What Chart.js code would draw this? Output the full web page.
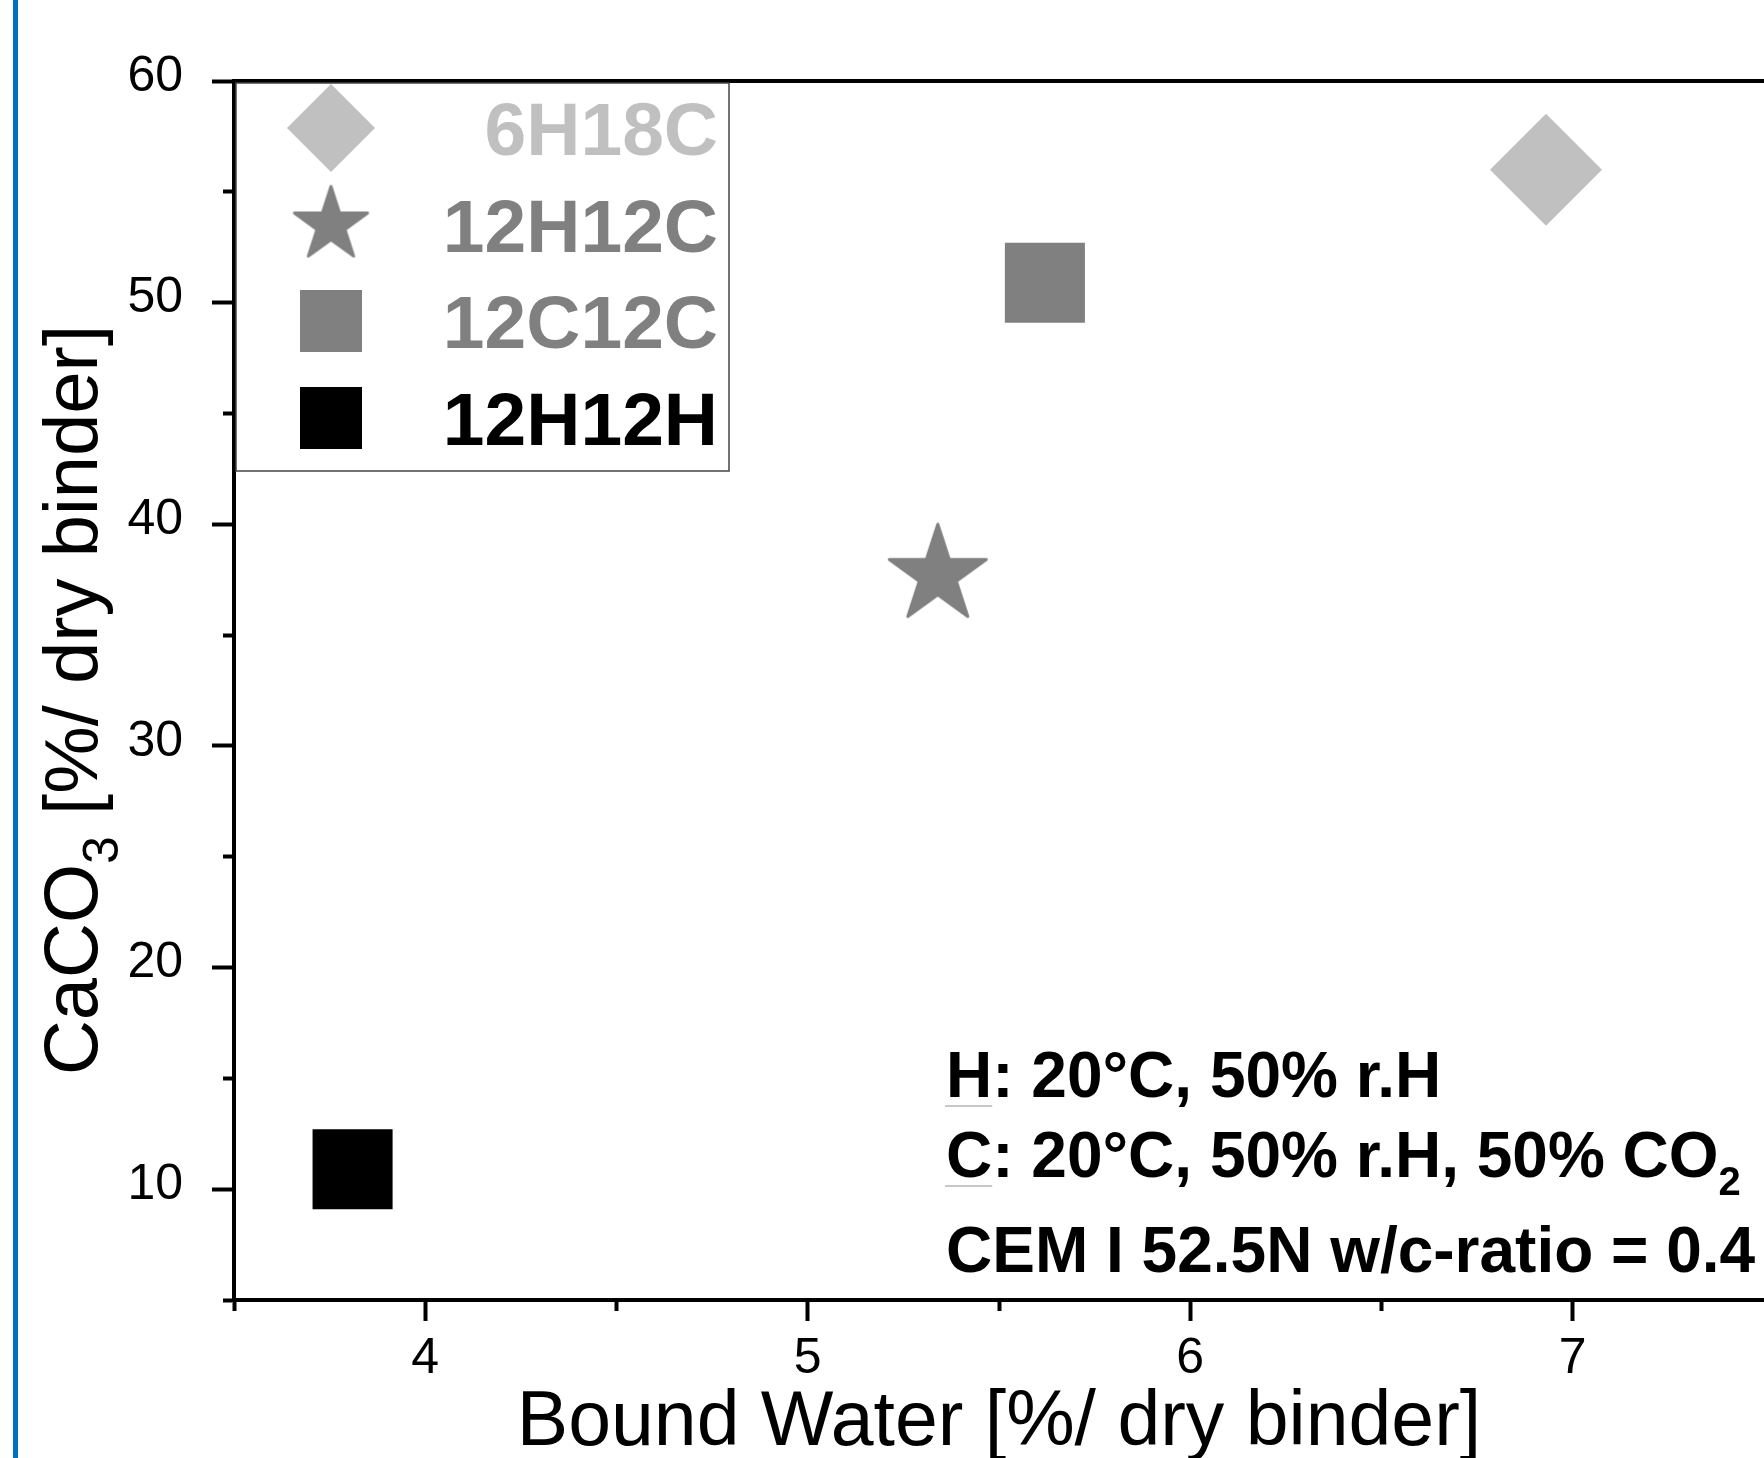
<!DOCTYPE html>
<html>
<head>
<meta charset="utf-8">
<title>CaCO3 vs Bound Water</title>
<script src="https://cdn.jsdelivr.net/npm/chart.js@4.4.1/dist/chart.umd.min.js"></script>
<style>
  html, body { margin: 0; padding: 0; background: #fff; overflow: hidden; }
  #wrap { position: relative; width: 1764px; height: 1458px; }
  #chart { display: block; }
</style>
</head>
<body>
<div id="wrap"><canvas id="chart"></canvas></div>
<script>
'use strict';

// Data
const seriesNames = ['6H18C', '12H12C', '12C12C', '12H12H'];
const boundWater = [6.93, 5.34, 5.62, 3.81];
const caco3 = [56.0, 37.7, 50.9, 10.9];
const seriesColors = ['#c0c0c0', '#808080', '#808080', '#000000'];
const seriesMarkers = ['diamond', 'star', 'square', 'square'];

const xTickLabels = [4, 5, 6, 7];
const yTickLabels = [10, 20, 30, 40, 50, 60];

const FONT = "'Liberation Sans', Arial, sans-serif";
Chart.defaults.font.family = FONT;

/**
 * Build a filled five point star as an image usable as pointStyle
 */
function makeStar(outer, color) {
    const pad = 4;
    const size = Math.ceil(outer * 2 + pad * 2);
    const c = document.createElement('canvas');
    c.width = size;
    c.height = size;
    const g = c.getContext('2d');
    const cx = size / 2, cy = size / 2;
    const inner = outer * 0.382;
    g.beginPath();
    for (let i = 0; i < 10; i++) {
        const r = i % 2 ? inner : outer;
        const a = -Math.PI / 2 + i * Math.PI / 5;
        const px = cx + r * Math.cos(a);
        const py = cy + r * Math.sin(a);
        if (i === 0) g.moveTo(px, py); else g.lineTo(px, py);
    }
    g.closePath();
    g.fillStyle = color;
    g.fill();
    g.lineJoin = 'round';
    g.lineWidth = 3;
    g.strokeStyle = color;
    g.stroke();
    return c;
}

const dataStar = makeStar(51, '#808080');
const legendStar = makeStar(38.5, '#808080');

function pointStyleFor(i) {
    const m = seriesMarkers[i];
    if (m === 'diamond') return 'rectRot';
    if (m === 'star') return dataStar;
    return 'rect';
}

function pointRadiusFor(i) {
    const m = seriesMarkers[i];
    if (m === 'diamond') return 56;
    if (m === 'star') return 52;
    return 56.6;
}

function near(v, list) {
    return list.some(t => Math.abs(t - v) < 1e-6);
}

// Legend, notes, axis titles and frame drawn on top
const decorPlugin = {
    id: 'decor',
    afterDraw(chart) {
        const ctx = chart.ctx;
        const area = chart.chartArea;
        ctx.save();

        // blue margin line
        ctx.fillStyle = '#0070c0';
        ctx.fillRect(13, 0, 5, chart.height);

        // top frame line
        ctx.strokeStyle = '#000';
        ctx.lineWidth = 4;
        ctx.beginPath();
        ctx.moveTo(area.left - 2, area.top);
        ctx.lineTo(area.right, area.top);
        ctx.stroke();

        // legend box
        const lx = area.left + 2, ly = area.top + 2, lw = 493, lh = 388;
        ctx.fillStyle = '#fff';
        ctx.fillRect(lx, ly, lw, lh);
        ctx.strokeStyle = '#444';
        ctx.lineWidth = 1.5;
        ctx.strokeRect(lx, ly, lw, lh);

        const rows = [128, 225, 321, 418];
        const symX = 331;
        chart.data.datasets.forEach((ds, i) => {
            const cy = rows[i];
            const color = seriesColors[i];
            ctx.fillStyle = color;
            const m = seriesMarkers[i];
            if (m === 'diamond') {
                ctx.beginPath();
                ctx.moveTo(symX, cy - 44);
                ctx.lineTo(symX + 44, cy);
                ctx.lineTo(symX, cy + 44);
                ctx.lineTo(symX - 44, cy);
                ctx.closePath();
                ctx.fill();
            } else if (m === 'star') {
                ctx.drawImage(legendStar, symX - legendStar.width / 2, cy - legendStar.height / 2);
            } else {
                ctx.fillRect(symX - 31, cy - 31, 62, 62);
            }
            ctx.font = 'bold 75px ' + FONT;
            ctx.textAlign = 'right';
            ctx.textBaseline = 'alphabetic';
            ctx.fillText(ds.label, 718, cy + 27);
        });

        // condition notes
        const noteLines = [
            [{ t: 'H', u: true }, { t: ': 20°C, 50% r.H' }],
            [{ t: 'C', u: true }, { t: ': 20°C, 50% r.H, 50% CO' }, { t: '2', sub: true }],
            [{ t: 'CEM I 52.5N w/c-ratio = 0.4' }]
        ];
        const noteBase = [1097, 1177, 1272];
        ctx.textAlign = 'left';
        ctx.fillStyle = '#000';
        noteLines.forEach((line, li) => {
            let x = 946;
            const y = noteBase[li];
            line.forEach(seg => {
                ctx.font = seg.sub ? 'bold 40px ' + FONT : 'bold 64px ' + FONT;
                const w = ctx.measureText(seg.t).width;
                ctx.fillStyle = '#000';
                ctx.fillText(seg.t, x, seg.sub ? y + 18 : y);
                if (seg.u) {
                    ctx.strokeStyle = '#c8c8c8';
                    ctx.lineWidth = 2;
                    ctx.beginPath();
                    ctx.moveTo(x - 1, y + 9);
                    ctx.lineTo(x + w, y + 9);
                    ctx.stroke();
                }
                x += w;
            });
        });

        // x axis title
        ctx.fillStyle = '#000';
        ctx.font = '77px ' + FONT;
        ctx.textAlign = 'center';
        ctx.fillText('Bound Water [%/ dry binder]', (area.left + area.right) / 2, 1445);

        // y axis title with subscript
        const parts = [
            { t: 'CaCO', f: '76px ' + FONT, dy: 0 },
            { t: '3', f: '50px ' + FONT, dy: 21 },
            { t: ' [%/ dry binder]', f: '76px ' + FONT, dy: 0 }
        ];
        let total = 0;
        parts.forEach(p => { ctx.font = p.f; p.w = ctx.measureText(p.t).width; total += p.w; });
        ctx.translate(97, 700);
        ctx.rotate(-Math.PI / 2);
        ctx.textAlign = 'left';
        let px = -total / 2;
        parts.forEach(p => {
            ctx.font = p.f;
            ctx.fillText(p.t, px, p.dy);
            px += p.w;
        });

        ctx.restore();
    }
};

const ctx = document.getElementById('chart');

new Chart(ctx, {
    type: 'scatter',
    data: {
        datasets: seriesNames.map((name, i) => ({
            label: name,
            data: [{ x: boundWater[i], y: caco3[i] }],
            backgroundColor: seriesColors[i],
            borderColor: seriesColors[i],
            borderWidth: 0,
            pointStyle: pointStyleFor(i),
            pointRadius: pointRadiusFor(i),
            pointHoverRadius: pointRadiusFor(i)
        }))
    },
    options: {
        responsive: true,
        maintainAspectRatio: false,
        animation: false,
        events: [],
        layout: {
            autoPadding: false,
            padding: { top: 81, left: 0, right: 0, bottom: 0 }
        },
        plugins: {
            legend: { display: false },
            tooltip: { enabled: false }
        },
        scales: {
            x: {
                type: 'linear',
                position: 'bottom',
                min: 3.5,
                max: 7.5,
                afterFit: scale => {
                    scale.height = 158;
                    // keep the plot running to the right edge
                    scale.paddingLeft = 0;
                    scale.paddingRight = 0;
                },
                border: { display: true, width: 4, color: '#000' },
                grid: {
                    drawOnChartArea: false,
                    drawTicks: true,
                    tickLength: 21,
                    tickWidth: 4,
                    tickColor: c => (c.tick && c.tick.value >= 7.5 ? 'rgba(0,0,0,0)' : '#000'),
                    tickBorderDash: c => (c.tick && !near(c.tick.value, xTickLabels) ? [9, 100] : [])
                },
                ticks: {
                    stepSize: 0.5,
                    autoSkip: false,
                    maxRotation: 0,
                    padding: 8,
                    color: '#000',
                    font: { size: 50 },
                    callback: v => (near(v, xTickLabels) ? String(Math.round(v)) : '')
                }
            },
            y: {
                type: 'linear',
                position: 'left',
                min: 5,
                max: 60,
                afterFit: scale => { scale.width = 234; },
                border: { display: true, width: 4, color: '#000' },
                grid: {
                    drawOnChartArea: false,
                    drawTicks: true,
                    tickLength: 22,
                    tickWidth: 4,
                    tickColor: '#000',
                    tickBorderDash: c => (c.tick && !near(c.tick.value, yTickLabels) ? [0, 11, 100, 0] : [])
                },
                ticks: {
                    stepSize: 5,
                    autoSkip: false,
                    padding: 29,
                    labelOffset: -4,
                    color: '#000',
                    font: { size: 50 },
                    callback: v => (near(v, yTickLabels) ? String(Math.round(v)) : '')
                }
            }
        }
    },
    plugins: [decorPlugin]
});
</script>
</body>
</html>
